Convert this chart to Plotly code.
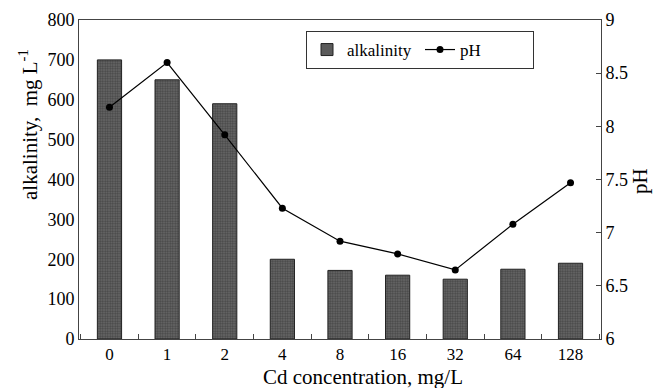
import plotly.graph_objects as go

categories = ["0", "1", "2", "4", "8", "16", "32", "64", "128"]
alkalinity = [700, 650, 590, 200, 172, 160, 150, 175, 190]
ph = [8.18, 8.60, 7.92, 7.23, 6.92, 6.80, 6.65, 7.08, 7.47]

FF = "Liberation Serif"
L, R, T, B = 79, 58, 20, 49
W, H = 659, 388
PW, PH = W - L - R, H - T - B


def px_x(px):
    return (px - L) / PW


def px_y(py):
    return (H - B - py) / PH


fig = go.Figure()
fig.add_trace(go.Bar(
    x=categories, y=alkalinity, name="alkalinity",
    width=0.42,
    marker=dict(
        color="#555555",
        line=dict(color="#222222", width=1),
        pattern=dict(shape=".", fgcolor="#222222", bgcolor="#6a6a6a", size=2.5, solidity=0.5),
    ),
    yaxis="y",
))
fig.add_trace(go.Scatter(
    x=categories, y=ph, name="pH",
    mode="lines+markers",
    line=dict(color="black", width=1.2),
    marker=dict(color="black", size=7),
    yaxis="y2",
))

fig.update_layout(
    width=W, height=H,
    margin=dict(l=L, r=R, t=T, b=B, autoexpand=False),
    plot_bgcolor="white", paper_bgcolor="white",
    font=dict(family=FF, size=17, color="black"),
    showlegend=True,
    legend=dict(
        orientation="h",
        x=px_x(306), y=px_y(31), xanchor="left", yanchor="top",
        bordercolor="#333333", borderwidth=1,
        bgcolor="white",
        font=dict(family=FF, size=17, color="black"),
        entrywidth=68,
        itemwidth=30,
        traceorder="normal",
        tracegroupgap=0,
    ),
    xaxis=dict(
        type="category",
        showline=True, linecolor="#444444", linewidth=1, mirror=True,
        ticks="inside", tickson="boundaries", ticklen=5, tickcolor="#444444",
        tickfont=dict(family=FF, size=17),
        showgrid=False, zeroline=False, automargin=False,
    ),
    yaxis=dict(
        range=[0, 800], dtick=100,
        showline=True, linecolor="#444444", linewidth=1,
        ticks="", showgrid=False, zeroline=False, automargin=False,
        tickfont=dict(family=FF, size=18),
    ),
    yaxis2=dict(
        range=[6, 9], dtick=0.5,
        overlaying="y", side="right",
        showline=True, linecolor="#444444", linewidth=1,
        ticks="inside", ticklen=5, tickcolor="#444444",
        tickfont=dict(family=FF, size=18),
        showgrid=False, zeroline=False, automargin=False,
    ),
    bargap=0.58,
    annotations=[
        dict(text="Cd concentration, mg/L", xref="paper", yref="paper",
             x=px_x(363), y=px_y(377), xanchor="center", yanchor="middle",
             showarrow=False, font=dict(family=FF, size=21)),
        dict(text="alkalinity,  mg L<sup>-1</sup>", xref="paper", yref="paper",
             x=px_x(28), y=px_y(125), xanchor="center", yanchor="middle",
             textangle=-90, showarrow=False, font=dict(family=FF, size=21)),
        dict(text="pH", xref="paper", yref="paper",
             x=px_x(640), y=px_y(181), xanchor="center", yanchor="middle",
             textangle=-90, showarrow=False, font=dict(family=FF, size=21)),
    ],
)

fig.write_html("out.html")
